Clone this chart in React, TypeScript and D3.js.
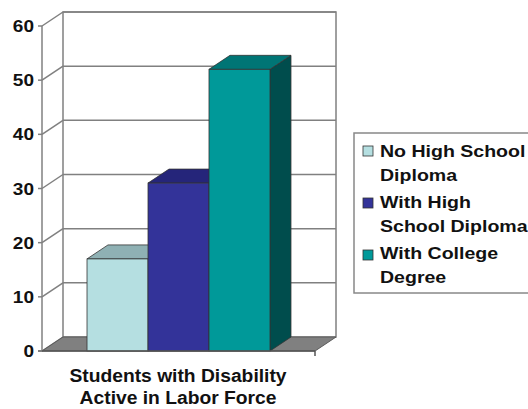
import React from "react";
import * as d3 from "d3";

const categories = ["Students with Disability", "Active in Labor Force"];
const seriesNames = ["No High School Diploma", "With High School Diploma", "With College Degree"];
const legendLines = [["No High School", "Diploma"], ["With High", "School Diploma"], ["With College", "Degree"]];
const values = [17, 31, 52];
const yTicks = [0, 10, 20, 30, 40, 50, 60];
const frontColors = ["#b5dfe1", "#333399", "#009999"];
const topColors = ["#8fb1b4", "#25257a", "#007575"];
const sideColors = ["#7fa3a5", "#1c1c66", "#004d4d"];

const W = 528, H = 409;
const DX = 21, DY = -14;
const FONT = "'Liberation Sans', Arial, sans-serif";

function T({ x, y, s = 1.12, size = 17, anchor = "start", children }: any) {
  return (
    <text transform={`translate(${x},${y}) scale(${s},1)`} fontFamily={FONT} fontWeight="bold"
      fontSize={size} textAnchor={anchor} fill="#111">{children}</text>
  );
}

export default function App() {
  const y = d3.scaleLinear().domain([0, 60]).range([351, 26]);
  const x0 = 42, x1 = 315;
  const band = d3.scaleBand<string>().domain(seriesNames).range([x0, x1]).paddingInner(0).paddingOuter(0.738);
  const y0 = y(0);
  const pts = (a: number[][]) => a.map(p => p.join(",")).join(" ");
  const grid = "#808080";
  return (
    <svg width={W} height={H} style={{ position: "absolute", left: 0, top: 0, background: "#fff" }}>
      {/* back wall */}
      <rect x={x0 + DX} y={y(60) + DY} width={x1 - x0} height={y(0) - y(60)} fill="#fff" stroke={grid} strokeWidth={1.5} />
      {yTicks.filter(t => t > 0).map(t => (
        <line key={"g" + t} x1={x0 + DX} x2={x1 + DX} y1={y(t) + DY} y2={y(t) + DY} stroke={grid} strokeWidth={1.5} />
      ))}
      {/* left wall diagonals */}
      {yTicks.map(t => (
        <line key={"d" + t} x1={x0} y1={y(t)} x2={x0 + DX} y2={y(t) + DY} stroke={grid} strokeWidth={1.5} />
      ))}
      {/* floor */}
      <polygon points={pts([[x0, y0], [x0 + DX, y0 + DY], [x1 + DX, y0 + DY], [x1, y0]])} fill="#808080" stroke="#5a5a5a" strokeWidth={1} />
      {/* bars */}
      {seriesNames.map((s, i) => {
        const bx0 = band(s)!, bx1 = bx0 + band.bandwidth();
        const yv = y(values[i]);
        return (
          <g key={s} stroke="#333" strokeWidth={0.8}>
            <polygon points={pts([[bx1, yv], [bx1 + DX, yv + DY], [bx1 + DX, y0 + DY], [bx1, y0]])} fill={sideColors[i]} />
            <polygon points={pts([[bx0, yv], [bx0 + DX, yv + DY], [bx1 + DX, yv + DY], [bx1, yv]])} fill={topColors[i]} />
            <rect x={bx0} y={yv} width={bx1 - bx0} height={y0 - yv} fill={frontColors[i]} />
          </g>
        );
      })}
      {/* front axes */}
      <line x1={x0} x2={x0} y1={y(60)} y2={y0} stroke={grid} strokeWidth={1.5} />
      <line x1={x0 - 4} x2={x1} y1={y0} y2={y0} stroke="#555" strokeWidth={1.5} />
      <line x1={x1} x2={x1} y1={y0} y2={y0 + 5} stroke="#555" strokeWidth={1.5} />
      {yTicks.map(t => (
        <g key={"t" + t}>
          <line x1={x0 - 4} x2={x0} y1={y(t)} y2={y(t)} stroke={grid} strokeWidth={1.5} />
          <T x={34} y={y(t) + 6} anchor="end">{t}</T>
        </g>
      ))}
      {/* x category title */}
      <T x={178} y={382} size={18} s={1.07} anchor="middle">{categories[0]}</T>
      <T x={178} y={404} size={18} s={1.07} anchor="middle">{categories[1]}</T>
      {/* legend */}
      <rect x={354} y={133} width={190} height={160} fill="#fff" stroke="#888" strokeWidth={1.5} />
      {legendLines.map((lines, i) => (
        <g key={"l" + i}>
          <rect x={363} y={146 + i * 52} width={10} height={10} fill={frontColors[i]} stroke="#333" strokeWidth={0.8} />
          <T x={380} y={157 + i * 51} s={1.15}>{lines[0]}</T>
          <T x={380} y={181 + i * 51} s={1.15}>{lines[1]}</T>
        </g>
      ))}
    </svg>
  );
}
